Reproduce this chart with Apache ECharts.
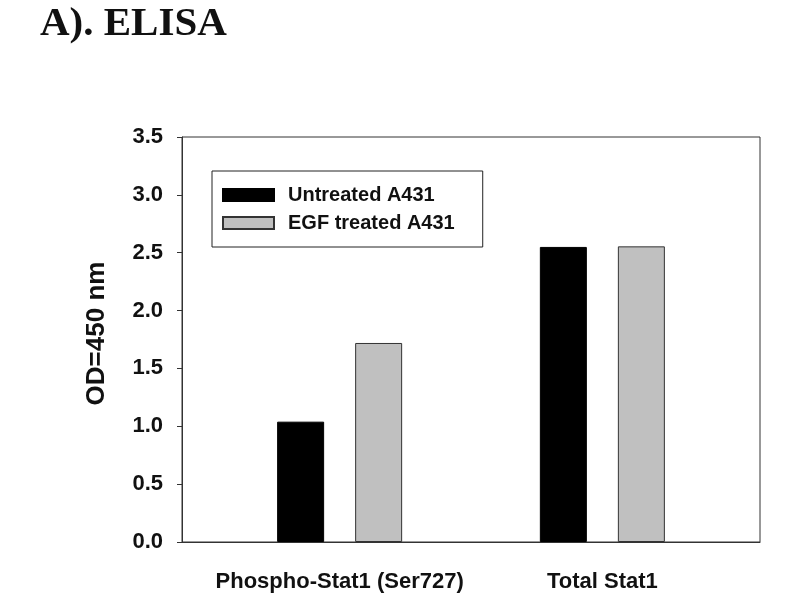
<!DOCTYPE html>
<html>
<head>
<meta charset="utf-8">
<script src="https://cdn.jsdelivr.net/npm/echarts@6/dist/echarts.min.js"></script>
<style>
  html, body { margin: 0; padding: 0; background: #fff; }
  #chart { width: 800px; height: 600px; }
</style>
</head>
<body>
<div id="chart"></div>
<script>
// data
var categories = ['Phospho-Stat1 (Ser727)', 'Total Stat1'];
var categoryPos = [1, 2];
var untreated = [1.04, 2.55];
var egfTreated = [1.72, 2.555];
var yTicks = [0, 0.5, 1.0, 1.5, 2.0, 2.5, 3.0, 3.5];

function pairs(values) {
  return values.map(function(v, i) { return [categoryPos[i], v]; });
}

var chart = echarts.init(document.getElementById('chart'));
var sans = '"Liberation Sans", Arial, sans-serif';

var option = {
  animation: false,
  backgroundColor: '#fff',
  title: {
    text: 'A). ELISA',
    left: 35,
    top: -1,
    textStyle: {
      fontFamily: '"Liberation Serif", "Times New Roman", serif',
      fontWeight: 'bold',
      fontSize: 41,
      color: '#111'
    }
  },
  legend: {
    orient: 'vertical',
    left: 212,
    top: 171,
    padding: [14, 28, 14, 10],
    itemWidth: 51,
    itemHeight: 12,
    itemGap: 8,
    borderColor: '#222',
    borderWidth: 1,
    textStyle: {
      fontFamily: sans,
      fontWeight: 'bold',
      fontSize: 20,
      color: '#111',
      padding: [0, 0, 0, 9]
    },
    data: [
      { name: 'Untreated A431', icon: 'rect' },
      { name: 'EGF treated A431', icon: 'rect' }
    ]
  },
  grid: {
    left: 182,
    right: 40,
    top: 137,
    bottom: 58,
    show: true,
    borderColor: '#333',
    borderWidth: 1
  },
  xAxis: {
    type: 'value',
    min: 0.4,
    max: 2.6,
    splitLine: { show: false },
    axisTick: { show: false },
    axisLine: { lineStyle: { color: '#333', width: 1 } },
    axisLabel: {
      customValues: categoryPos,
      formatter: function(v) { return categories[categoryPos.indexOf(v)] || ''; },
      margin: 29,
      fontFamily: sans,
      fontWeight: 'bold',
      fontSize: 22,
      color: '#111'
    }
  },
  yAxis: {
    type: 'value',
    min: 0,
    max: 3.5,
    interval: 0.5,
    name: 'OD=450 nm',
    nameLocation: 'middle',
    nameGap: 72,
    nameTextStyle: {
      fontFamily: sans,
      fontWeight: 'bold',
      fontSize: 26,
      color: '#111',
      padding: [0, 0, 0, 12]
    },
    splitLine: { show: false },
    axisLine: { show: true, lineStyle: { color: '#333', width: 1 } },
    axisTick: { show: true, inside: false, length: 5, lineStyle: { color: '#333' } },
    axisLabel: {
      margin: 19,
      fontFamily: sans,
      fontWeight: 'bold',
      fontSize: 22,
      color: '#111',
      formatter: function(v) { return v.toFixed(1); }
    }
  },
  series: [
    {
      name: 'Untreated A431',
      type: 'bar',
      barWidth: 47,
      barGap: '66%',
      itemStyle: { color: '#000', borderColor: '#000', borderWidth: 1 },
      data: pairs(untreated)
    },
    {
      name: 'EGF treated A431',
      type: 'bar',
      barWidth: 47,
      barGap: '66%',
      itemStyle: { color: '#c0c0c0', borderColor: '#333', borderWidth: 1 },
      data: pairs(egfTreated)
    }
  ]
};

chart.setOption(option);
</script>
</body>
</html>
